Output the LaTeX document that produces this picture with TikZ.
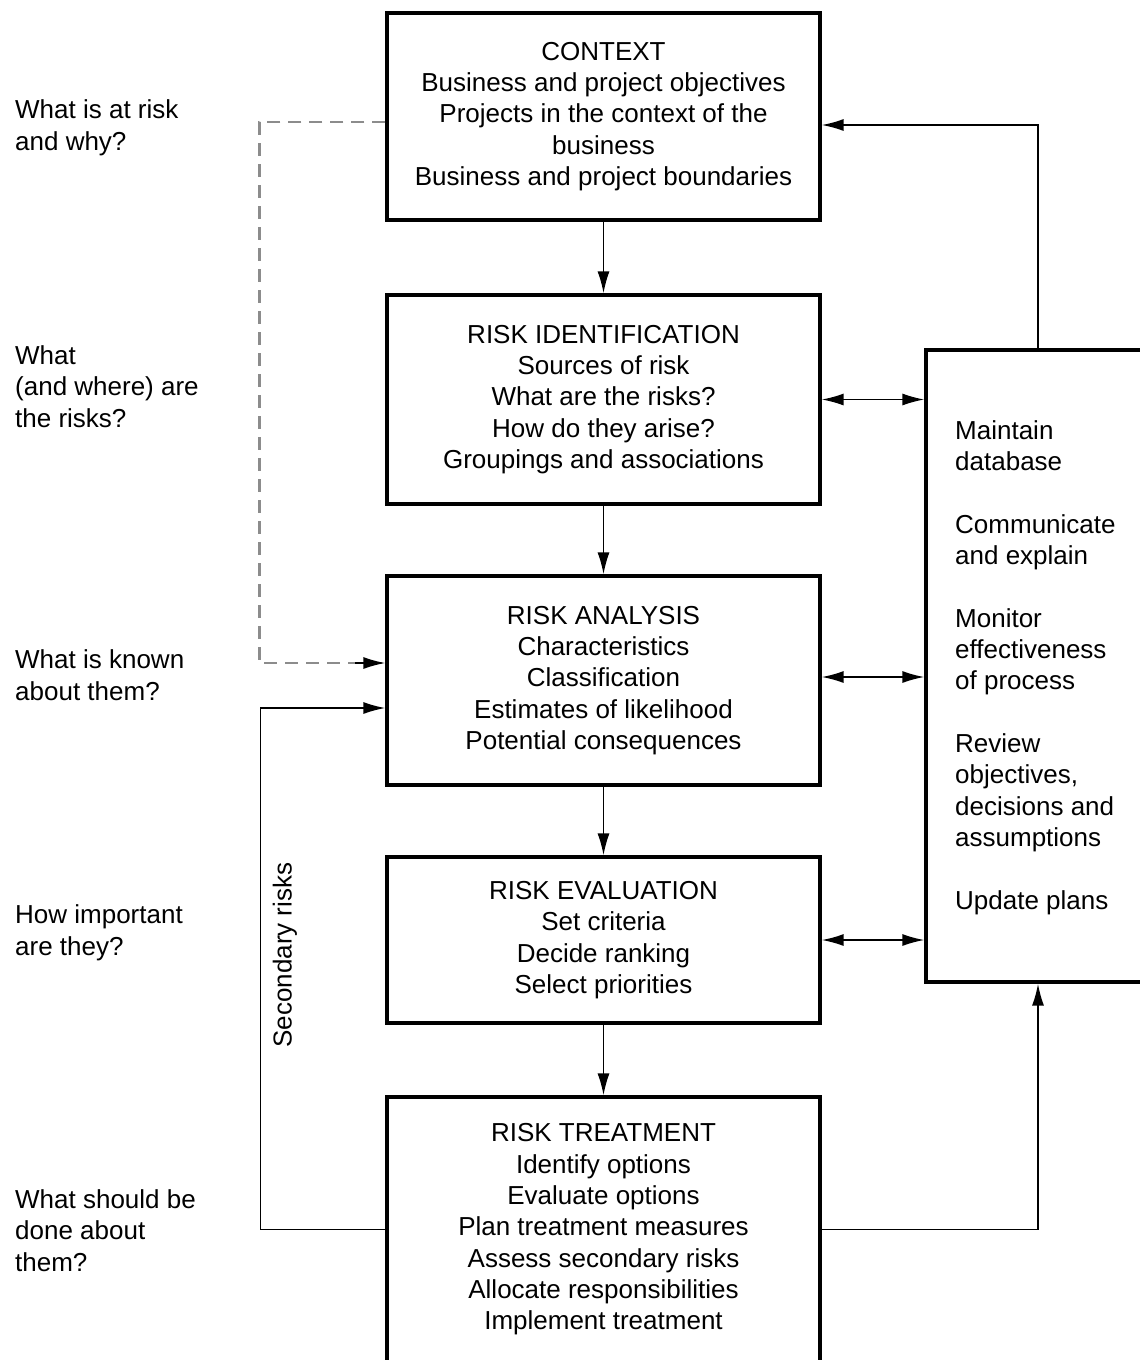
\documentclass[tikz,border=0pt]{standalone}
\usepackage{fontspec}
\setmainfont{Liberation Sans}
\usetikzlibrary{arrows.meta}
\begin{document}
\begin{tikzpicture}[x=1pt,y=-1pt,
  font=\fontsize{26}{31.3}\selectfont,
  stagebox/.style={draw,line width=3.2pt,rectangle,align=center,minimum width=433pt,inner sep=0pt},
  conn/.style={line width=1.8pt},
  tip/.style={-{Latex[length=22pt,width=12pt]}},
  bothtips/.style={{Latex[length=22pt,width=12pt]}-{Latex[length=22pt,width=12pt]}},
  dashconn/.style={line width=2.2pt,draw=black!45,dash pattern=on 13pt off 8pt},
  question/.style={anchor=base west,align=left,inner sep=0pt}]
\useasboundingbox (0,0) rectangle (1140,1360);
\fill[white] (0,0) rectangle (1140,1360);

% process stages
\node[stagebox,minimum height=207pt] (ctx) at (603.5,116.5)
  {CONTEXT\\Business and project objectives\\Projects in the context of the\\business\\Business and project boundaries};
\node[stagebox,minimum height=209pt] (ident) at (603.5,399.5)
  {RISK IDENTIFICATION\\Sources of risk\\What are the risks?\\How do they arise?\\Groupings and associations};
\node[stagebox,minimum height=209pt] (ana) at (603.5,680.5)
  {RISK ANALYSIS\\Characteristics\\Classification\\Estimates of likelihood\\Potential consequences};
\node[stagebox,minimum height=166pt] (eval) at (603.5,940)
  {RISK EVALUATION\\Set criteria\\Decide ranking\\Select priorities};
\node[stagebox,minimum height=265pt] (treat) at (603.5,1229.5)
  {RISK TREATMENT\\Identify options\\Evaluate options\\Plan treatment measures\\Assess secondary risks\\Allocate responsibilities\\Implement treatment};

% support activities (the base anchor of a multi-line node is its last line)
\node[draw,line width=3.2pt,rectangle,minimum width=224pt,minimum height=632pt,inner sep=0pt] (rbox) at (1038,666) {};
\node[question] (rtxt) at (955,909)
  {Maintain\\database\\[31.3pt]Communicate\\and explain\\[31.3pt]Monitor\\effectiveness\\of process\\[31.3pt]Review\\objectives,\\decisions and\\assumptions\\[31.3pt]Update plans};

% guiding questions
\node[question] (q1) at (15,150) {What is at risk\\and why?};
\node[question] (q2) at (15,427) {What\\(and where) are\\the risks?};
\node[question] (q3) at (15,700) {What is known\\about them?};
\node[question] (q4) at (15,955) {How important\\are they?};
\node[question] (q5) at (15,1271) {What should be\\done about\\them?};

% main flow
\draw[conn,tip] (ctx) -- (ident);
\draw[conn,tip] (ident) -- (ana);
\draw[conn,tip] (ana) -- (eval);
\draw[conn,tip] (eval) -- (treat);

% exchanges with the support activities
\draw[conn,bothtips] (ident.east) -- (ident.east -| rbox.west);
\draw[conn,bothtips] ([yshift=3.5pt]ana.east) -- ([yshift=3.5pt]ana.east -| rbox.west);
\draw[conn,bothtips] (eval.east) -- (eval.east -| rbox.west);
\draw[conn,tip] (rbox.north) |- ([yshift=-8.5pt]ctx.east);
\draw[conn,tip] (treat.east) -| (rbox.south);

% feedback loops on the left
\draw[dashconn] ([yshift=-5.5pt]ctx.west) -- ++(-126,0) |- ([yshift=17.5pt]ana.west);
\draw[conn,tip] ([yshift=17.5pt]ana.west) ++(-30,0) -- ([yshift=17.5pt]ana.west);
\draw[conn,tip] (treat.west) -- ++(-125,0) |- ([yshift=-27.5pt]ana.west);
\node[rotate=90,inner sep=0pt] (sec) at (285,955) {Secondary risks};
\end{tikzpicture}
\end{document}
